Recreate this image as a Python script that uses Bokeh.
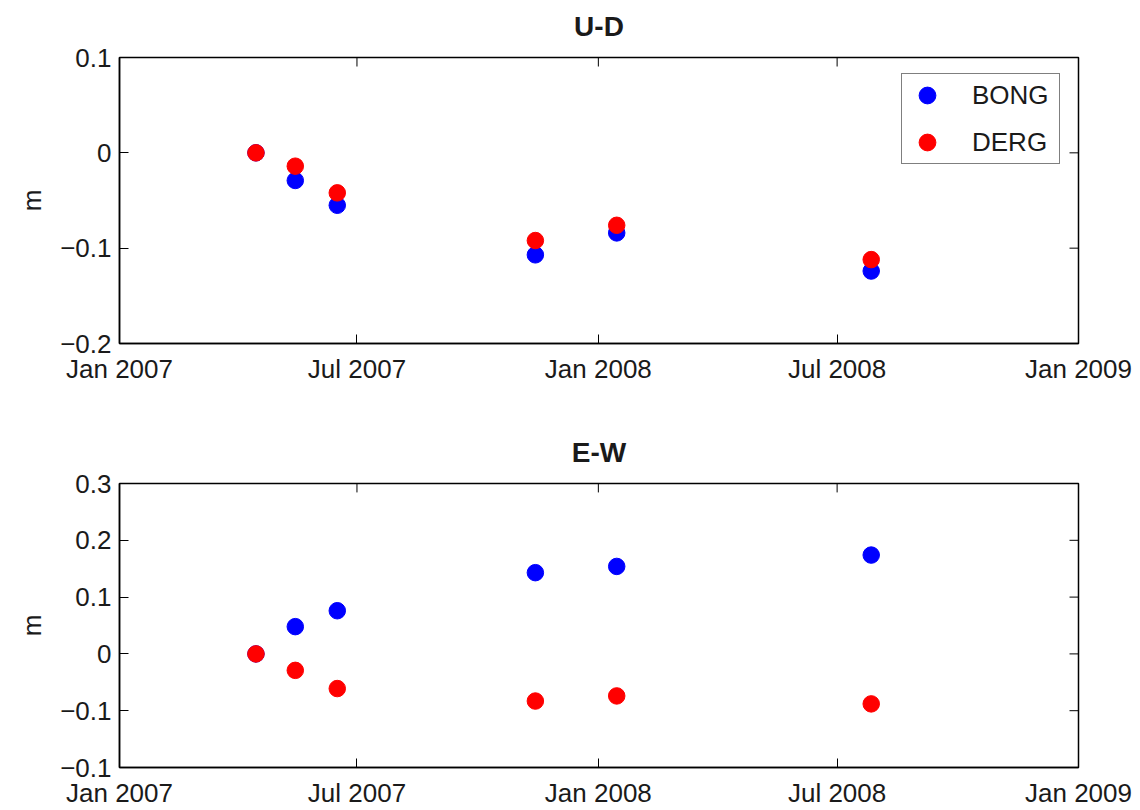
from datetime import datetime
import pandas as pd
from bokeh.plotting import figure
from bokeh.layouts import column
from bokeh.core.properties import value
from bokeh.models import (FixedTicker, DatetimeTickFormatter,
                          Range1d, Legend, LegendItem, ColumnDataSource)
from bokeh.embed import file_html
from bokeh.resources import INLINE

# ---- data ----
dates = ["2007-04-15", "2007-05-15", "2007-06-16", "2007-11-14", "2008-01-15", "2008-07-27"]
ud_bong = [0.0, -0.029, -0.055, -0.107, -0.084, -0.124]
ud_derg = [0.0, -0.014, -0.042, -0.092, -0.076, -0.112]
ew_bong = [0.0, 0.048, 0.076, 0.143, 0.154, 0.174]
ew_derg = [0.0, -0.029, -0.061, -0.083, -0.074, -0.088]
series_names = ["BONG", "DERG"]
series_colors = ["#0000ff", "#ff0000"]
titles = ["U-D", "E-W"]
x_tick_dates = ["2007-01-01", "2007-07-01", "2008-01-01", "2008-07-01", "2009-01-01"]
ud_yticks = [0.1, 0.0, -0.1, -0.2]
ud_ylabels = ["0.1", "0", "\u22120.1", "\u22120.2"]
ew_yticks = [0.3, 0.2, 0.1, 0.0, -0.1, -0.2]
ew_ylabels = ["0.3", "0.2", "0.1", "0", "\u22120.1", "\u22120.1"]

FONT = "Liberation Sans"
x_dt = [pd.Timestamp(d).to_pydatetime() for d in dates]
x_ticks_ms = [pd.Timestamp(d).value / 1e6 for d in x_tick_dates]
X0, X1 = datetime(2007, 1, 1), datetime(2009, 1, 1)
X0_ms, X1_ms = pd.Timestamp(X0).value / 1e6, pd.Timestamp(X1).value / 1e6

FRAME_W, FRAME_H = 959, 286
TICK_PX = 9
LEFT, RIGHT = 119, 62
PLOT_TOP = 16          # space kept above each frame inside the plot figure
TITLE_GAP = 31.5       # px from the frame's top edge up to the title's middle


def title_fig(text, height):
    # strip above each panel holding its bold, centred title
    t = figure(width=1140, height=height, x_range=Range1d(X0_ms, X1_ms),
               y_range=Range1d(0, height), output_backend="svg", toolbar_location=None,
               min_border_left=LEFT, min_border_right=RIGHT, min_border_top=0,
               min_border_bottom=0, x_axis_location=None, y_axis_location=None)
    t.xgrid.visible = False
    t.ygrid.visible = False
    t.outline_line_color = None
    t.background_fill_color = "white"
    t.border_fill_color = "white"
    t.text(x=[(X0_ms + X1_ms) / 2], y=[TITLE_GAP - PLOT_TOP], text=[text],
           text_align="center", text_baseline="middle", text_font=value(FONT),
           text_font_size="28px", text_font_style="bold", text_color="#1a1a1a")
    return t


def make_fig(bong, derg, yticks, ylabels, yr, height, bottom, legend):
    p = figure(width=1140, height=height, x_axis_type="datetime",
               x_range=Range1d(X0, X1),
               y_range=Range1d(*yr), output_backend="svg", toolbar_location=None,
               min_border_left=LEFT, min_border_right=RIGHT, min_border_top=PLOT_TOP,
               min_border_bottom=bottom)
    p.xgrid.visible = False
    p.ygrid.visible = False
    p.outline_line_color = "black"
    p.outline_line_width = 1.5
    p.background_fill_color = "white"
    p.border_fill_color = "white"

    ymin, ymax = yr
    # inward tick marks on the top and right edges (MATLAB box style)
    dy = TICK_PX / FRAME_H * (ymax - ymin)
    dx = TICK_PX / FRAME_W * (X1_ms - X0_ms)
    p.segment(x0=x_ticks_ms, y0=[ymax] * len(x_ticks_ms), x1=x_ticks_ms,
              y1=[ymax - dy] * len(x_ticks_ms), line_color="black", line_width=1)
    p.segment(x0=[X1_ms] * len(yticks), y0=yticks, x1=[X1_ms - dx] * len(yticks),
              y1=yticks, line_color="black", line_width=1)

    src = ColumnDataSource(dict(x=x_dt, b=bong, d=derg))
    r1 = p.scatter("x", "b", source=src, size=16.5, fill_color=series_colors[0],
                   line_color=series_colors[0])
    r2 = p.scatter("x", "d", source=src, size=16.5, fill_color=series_colors[1],
                   line_color=series_colors[1])

    xt = FixedTicker(ticks=x_ticks_ms)
    yt = FixedTicker(ticks=yticks)
    fmt = DatetimeTickFormatter(days="%b %Y", months="%b %Y", years="%b %Y",
                                hours="%b %Y", minutes="%b %Y")

    xa = p.xaxis[0]
    xa.ticker = xt
    xa.formatter = fmt
    ya = p.yaxis[0]
    ya.ticker = yt
    ya.major_label_overrides = {float(t): l for t, l in zip(yticks, ylabels)}
    ya.axis_label = "m"
    ya.axis_label_text_font = FONT
    ya.axis_label_text_font_size = "26px"
    ya.axis_label_text_font_style = "normal"
    ya.axis_label_text_color = "#1a1a1a"
    ya.axis_label_standoff = 10

    for ax in (xa, ya):
        ax.major_tick_in = TICK_PX
        ax.major_tick_out = 0
        ax.minor_tick_in = 0
        ax.minor_tick_out = 0
        ax.axis_line_width = 1.5
        ax.major_tick_line_width = 1
        ax.axis_line_color = "black"
        ax.major_tick_line_color = "black"
        ax.major_label_text_font = FONT
        ax.major_label_text_font_size = "26px"
        ax.major_label_text_color = "#1a1a1a"
    xa.major_label_standoff = 10
    ya.major_label_standoff = 8

    if legend:
        lg = Legend(items=[LegendItem(label=series_names[0], renderers=[r1]),
                           LegendItem(label=series_names[1], renderers=[r2])],
                    location=(782, 179))
        lg.padding = 0
        lg.margin = 0
        lg.spacing = 5
        lg.glyph_width = 50
        lg.glyph_height = 42
        lg.label_height = 42
        lg.label_width = 87
        lg.label_standoff = 20
        lg.label_text_font = FONT
        lg.label_text_font_size = "26px"
        lg.label_text_color = "#1a1a1a"
        lg.border_line_color = "black"
        lg.border_line_width = 1
        lg.background_fill_color = "white"
        lg.background_fill_alpha = 1
        p.add_layout(lg, "center")
    return p


t1 = title_fig(titles[0], 57 - PLOT_TOP)
p1 = make_fig(ud_bong, ud_derg, ud_yticks, ud_ylabels, (-0.2, 0.1),
              PLOT_TOP + FRAME_H + 57, 57, True)
t2 = title_fig(titles[1], 83 - PLOT_TOP)
p2 = make_fig(ew_bong, ew_derg, ew_yticks, ew_ylabels, (-0.2, 0.3),
              PLOT_TOP + FRAME_H + 41, 41, False)

layout = column(t1, p1, t2, p2, spacing=0)
open("out.html", "w").write(file_html(layout, INLINE))
